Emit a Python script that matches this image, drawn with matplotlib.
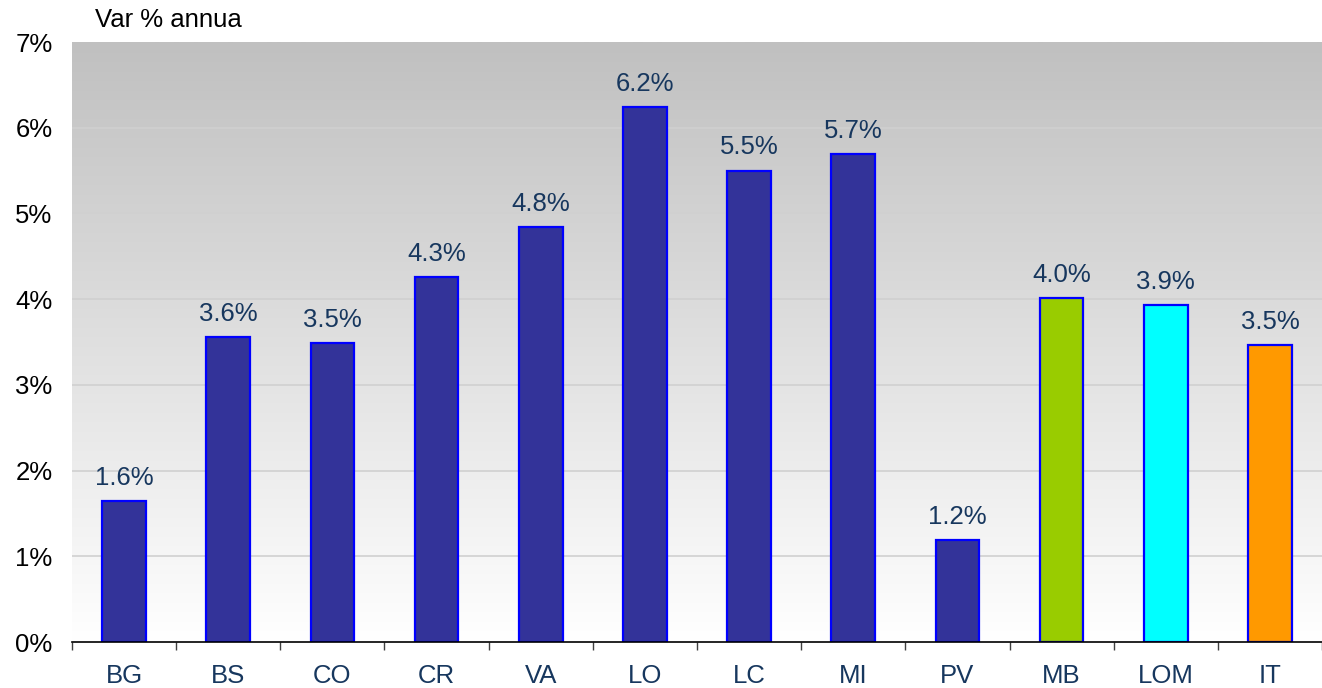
import numpy as np
import matplotlib
matplotlib.use("Agg")
import matplotlib.pyplot as plt
from matplotlib.colors import LinearSegmentedColormap

plt.rcParams['font.family'] = ['Liberation Sans', 'DejaVu Sans']

provinces = ['BG', 'BS', 'CO', 'CR', 'VA', 'LO', 'LC', 'MI', 'PV', 'MB', 'LOM', 'IT']
values = [1.64, 3.56, 3.49, 4.26, 4.84, 6.24, 5.50, 5.69, 1.19, 4.01, 3.93, 3.46]
bar_colors = ['#333399'] * 9 + ['#99CC00', '#00FFFF', '#FF9900']

label_color = '#17375E'
fs = 18.5

fig = plt.figure(figsize=(13.22, 6.88), dpi=100)
ax = fig.add_axes([72 / 1322, 1 - 642 / 688, 1250 / 1322, 600 / 688])

# gradient background: grey at top, white at bottom
grad = np.linspace(0, 1, 256).reshape(-1, 1)
cmap = LinearSegmentedColormap.from_list('bg', ['#ffffff', '#c0c0c0'])
ax.imshow(grad, extent=[-0.5, 11.5, 0, 7], origin='lower', aspect='auto',
          cmap=cmap, zorder=0)

for y in range(1, 7):
    ax.axhline(y, color='#d0d0d0', linewidth=1.2, zorder=1)

x = np.arange(len(provinces))
bars = ax.bar(x, values, width=0.42, color=bar_colors, edgecolor='#0000FF',
              linewidth=1.6, zorder=2)

for xi, v in zip(x, values):
    ax.annotate(f"{v:.1f}%", (xi, v), xytext=(0, 8), textcoords='offset points',
                ha='center', va='bottom', fontsize=fs, color=label_color)

ax.set_xlim(-0.5, 11.5)
ax.set_ylim(0, 7)
ax.set_yticks(range(0, 8))
ax.set_yticklabels([f"{i}%" for i in range(0, 8)], fontsize=fs)
ax.tick_params(axis='y', length=0, pad=14)

ax.set_xticks(x)
ax.set_xticklabels(provinces, fontsize=fs, color=label_color)
ax.tick_params(axis='x', which='major', length=0, pad=16)
ax.set_xticks(np.arange(-0.5, 11.6, 1), minor=True)
ax.tick_params(axis='x', which='minor', length=6, width=1, color='#404040')

for s in ['top', 'right', 'left']:
    ax.spines[s].set_visible(False)
ax.spines['bottom'].set_color('black')
ax.spines['bottom'].set_linewidth(1.2)
ax.spines['bottom'].set_zorder(3)

fig.text(95 / 1322, 1 - 20 / 688, 'Var % annua', fontsize=fs, va='center', ha='left')

fig.savefig('out.png', dpi=100)
